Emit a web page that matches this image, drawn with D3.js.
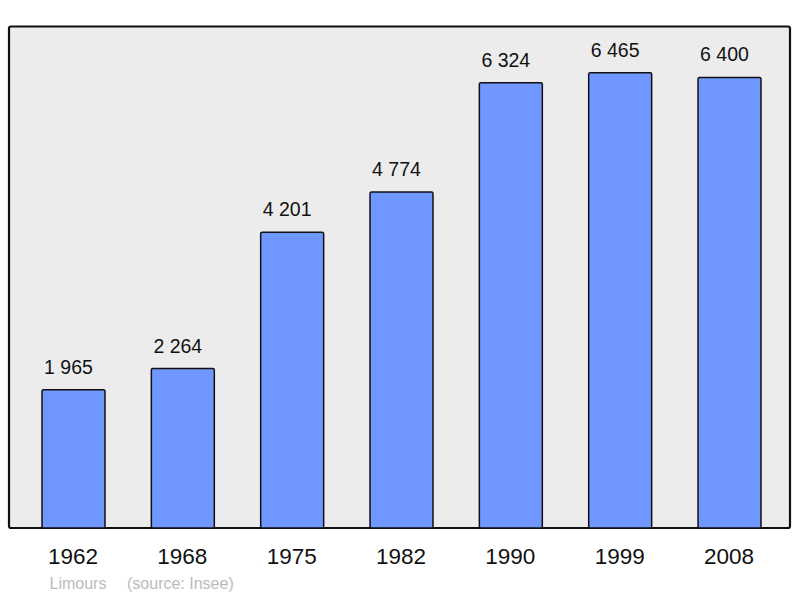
<!DOCTYPE html>
<html><head><meta charset="utf-8">
<script src="https://cdn.jsdelivr.net/npm/d3@7"></script>
<style>body{margin:0;background:#fff}svg{display:block}</style>
</head><body>
<script>
const years = ["1962","1968","1975","1982","1990","1999","2008"];
const population = [1965, 2264, 4201, 4774, 6324, 6465, 6400];
const labels = ["1 965","2 264","4 201","4 774","6 324","6 465","6 400"];
const commune = "Limours";
const source = "(source: Insee)";

const W = 800, H = 598;
const svg = d3.select("body").append("svg").attr("width", W).attr("height", H);
const font = "'Liberation Sans', Arial, sans-serif";

svg.append("rect").attr("x", 9).attr("y", 26.5).attr("width", 781).attr("height", 501.5)
  .attr("rx", 2).attr("fill", "#ececec").attr("stroke", "#111").attr("stroke-width", 2.2);

const x = d3.scaleBand().domain(years).range([42, 761]).paddingInner(0.424).paddingOuter(0);
const y = d3.scaleLinear().domain([0, 7500]).range([528, 0]);

svg.selectAll("rect.bar").data(population).join("rect").attr("class","bar")
  .attr("x", (d,i) => x(years[i]))
  .attr("y", d => y(d))
  .attr("width", x.bandwidth())
  .attr("height", d => y(0) - y(d))
  .attr("rx", 1.5)
  .attr("fill", "#7097ff").attr("stroke", "#111").attr("stroke-width", 1.5);

svg.selectAll("text.val").data(population).join("text").attr("class","val")
  .attr("x", (d,i) => x(years[i]) + x.bandwidth()/2 - 5)
  .attr("y", d => y(d) - 16)
  .attr("text-anchor","middle").attr("font-family", font).attr("font-size", 19.5)
  .attr("fill","#111").text((d,i) => labels[i]);

const xAxis = d3.axisBottom(x).tickSize(0).tickPadding(0);
const ax = svg.append("g").attr("transform","translate(-0.5,564)").call(xAxis);
ax.select(".domain").remove();
ax.selectAll("text").attr("font-family", font).attr("font-size", 22.5).attr("fill","#111").attr("dy", "0");

svg.append("text").attr("x", 49.5).attr("y", 589).attr("font-family", font).attr("font-size", 16)
  .attr("fill","#bbb").text(commune);
svg.append("text").attr("x", 127).attr("y", 589).attr("font-family", font).attr("font-size", 16)
  .attr("fill","#bbb").text(source);
</script>
</body></html>
